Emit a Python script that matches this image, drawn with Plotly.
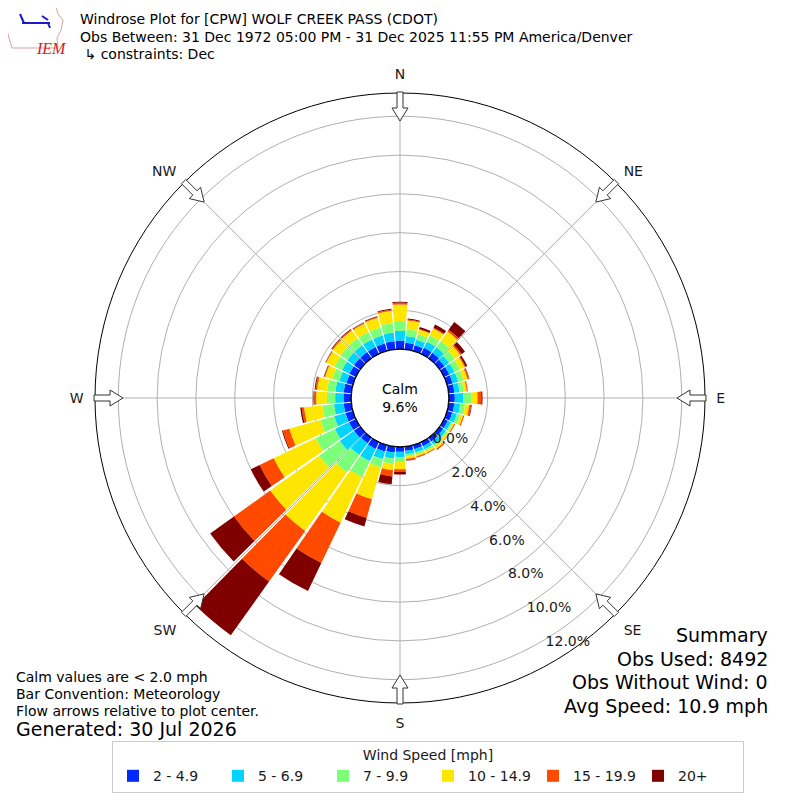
import math
import plotly.graph_objects as go

# wind directions (deg, bin centres) and speed bins
directions = list(range(0, 360, 10))
speed_bins = ["2 - 4.9", "5 - 6.9", "7 - 9.9", "10 - 14.9", "15 - 19.9", "20+"]
bin_colors = ["#0028ff", "#00d4ff", "#7cff79", "#ffe600", "#ff4a00", "#800000"]

# frequency (%) per direction for every speed bin
freq_2_5 = [.45, .35, .30, .35, .35, .30, .30, .30, .30, .31, .30, .28, .22, .22, .25, .24, .22, .22,
            .26, .30, .35, .40, .35, .40, .40, .40, .40, .40, .40, .35, .38, .40, .40, .40, .40, .42]
freq_5_7 = [.50, .35, .30, .35, .35, .30, .30, .30, .27, .43, .30, .25, .18, .18, .20, .18, .18, .18,
            .26, .33, .40, .70, .75, .90, .80, .60, .50, .43, .43, .38, .42, .43, .43, .43, .43, .45]
freq_7_10 = [.50, .35, .30, .35, .40, .35, .30, .28, .22, .43, .25, .18, .10, .10, .13, .10, .12, .12,
             .26, .28, .45, .90, 1.10, 1.30, 1.10, .75, .60, .43, .43, .38, .42, .43, .43, .43, .43, .48]
freq_10_15 = [.85, .45, .25, .40, .60, .35, .28, .22, .15, .31, .22, .15, .08, .10, .12, .10, .10, .12,
              .38, .32, 1.70, 2.60, 3.70, 3.10, 2.40, 1.65, .95, .55, .52, .38, .48, .48, .50, .48, .52, .65]
freq_15_20 = [.10, .05, .03, .05, .10, .08, .05, .08, .06, .20, .10, .06, .05, .03, .08, .05, .05, .08,
              .12, .32, 1.00, 2.30, 3.20, 2.30, .80, .35, .12, .10, .08, .04, .03, .06, .05, .04, .04, .06]
freq_20_up = [.05, .05, .10, .18, .50, .22, .10, .02, .00, .06, .03, .00, .00, .00, .00, .00, .01, .02,
              .15, .40, .45, 1.60, 3.40, 1.50, .50, .05, .08, .04, .05, .03, .02, .04, .04, .03, .04, .04]

radial_ticks = [0, 2, 4, 6, 8, 10, 12]
compass_angles = [0, 45, 90, 135, 180, 225, 270, 315]
compass_labels = ["N", "NE", "E", "SE", "S", "SW", "W", "NW"]

calm_pct = 9.6
summary = ["Summary", "Obs Used: 8492", "Obs Without Wind: 0", "Avg Speed: 10.9 mph"]

W = H = 800
OFF = 8  # page body margin
CX, CY, R_OUT = 400, 398, 305
RLABEL_ANGLE = -61


def px(x, y):
    # screen pixel -> paper coords
    return (x - OFF) / W, 1 - (y - OFF) / H


fig = go.Figure()
all_bins = [freq_2_5, freq_5_7, freq_7_10, freq_10_15, freq_15_20, freq_20_up]
for name, color, vals in zip(speed_bins, bin_colors, all_bins):
    fig.add_trace(go.Barpolar(r=vals, theta=directions, width=9.0, name=name,
                              marker=dict(color=color, line=dict(width=0))))

# black circle round the calm hole
fig.add_trace(go.Scatterpolar(r=[0] * 361, theta=list(range(361)), mode="lines",
                              line=dict(color="black", width=1.3), showlegend=False,
                              hoverinfo="skip"))

# hollow arrows on the outer ring
shapes = []
for a in compass_angles:
    t = math.radians(a)
    ox, oy = math.sin(t), -math.cos(t)
    qx, qy = math.cos(t), math.sin(t)
    pts = [(306, -3), (306, 3), (290, 3), (290, 8), (277, 0), (290, -8), (290, -3)]
    path = ""
    for i, (r, w) in enumerate(pts):
        x, y = px(CX + r * ox + w * qx, CY + r * oy + w * qy)
        path += ("M" if i == 0 else "L") + f"{x:.5f},{y:.5f} "
    shapes.append(dict(type="path", xref="paper", yref="paper", path=path + "Z",
                       fillcolor="white", line=dict(color="#333333", width=1)))

# rough IEM logo
logo = [(7, 7), (56, 7), (58, 14), (63, 20), (61, 30), (57, 38), (58, 48), (12, 48), (9, 38), (7, 30)]
path = ""
for i, (x, y) in enumerate(logo):
    xx, yy = px(x, y)
    path += ("M" if i == 0 else "L") + f"{xx:.5f},{yy:.5f} "
shapes.append(dict(type="path", xref="paper", yref="paper", path=path + "Z",
                   fillcolor="white", line=dict(color="#d9a0a0", width=1)))
for (x0, y0, x1, y1) in [(22, 23, 50, 23), (20, 14, 24, 23), (42, 16, 48, 20), (48, 23, 50, 28)]:
    a0, b0 = px(x0, y0)
    a1, b1 = px(x1, y1)
    shapes.append(dict(type="line", xref="paper", yref="paper", x0=a0, y0=b0, x1=a1, y1=b1,
                       line=dict(color="#1a1acc", width=2)))

ann = []


def text(x, y, s, size=14, anchor="left"):
    xx, yy = px(x, y)
    ann.append(dict(x=xx, y=yy, xref="paper", yref="paper", text=s, showarrow=False,
                    xanchor=anchor, yanchor="middle", font=dict(size=size, color="black")))


text(78, 19, "Windrose Plot for [CPW] WOLF CREEK PASS (CDOT)")
text(78, 37, "Obs Between: 31 Dec 1972 05:00 PM - 31 Dec 2025 11:55 PM America/Denver")
text(78, 54, " ↳ constraints: Dec")
text(400, 398, f"Calm<br>{calm_pct}%", anchor="center")
text(14, 677, "Calm values are < 2.0 mph")
text(14, 694, "Bar Convention: Meteorology")
text(14, 711, "Flow arrows relative to plot center.")
text(14, 729, "Generated: 30 Jul 2026", size=19)
for i, s in enumerate(summary):
    text(770, 635 + i * 23.5, s, size=19, anchor="right")
xx, yy = px(34, 38)
ann.append(dict(x=xx, y=yy, xref="paper", yref="paper", text="<i>IEM</i>", showarrow=False,
                font=dict(size=16, color="#cc2222", family="Liberation Serif")))

dom_x0, dom_y1 = px(CX - R_OUT, CY - R_OUT)
dom_x1, dom_y0 = px(CX + R_OUT, CY + R_OUT)
leg_x, leg_y = px(428, 741)

fig.update_layout(
    width=W, height=H,
    margin=dict(l=0, r=0, t=0, b=0),
    paper_bgcolor="white",
    font=dict(family="DejaVu Sans", size=14, color="#1a1a1a"),
    polar=dict(
        domain=dict(x=[dom_x0, dom_x1], y=[dom_y0, dom_y1]),
        hole=0.16,
        bgcolor="white",
        barmode="stack",
        angularaxis=dict(rotation=90, direction="clockwise", tickmode="array",
                         tickvals=compass_angles, ticktext=compass_labels,
                         showgrid=True, gridcolor="#b0b0b0", gridwidth=1,
                         showline=True, linecolor="black", linewidth=1,
                         ticks="outside", ticklen=8, tickcolor="rgba(0,0,0,0)",
                         tickfont=dict(size=14)),
        radialaxis=dict(range=[0, 13.2], tickmode="array", tickvals=radial_ticks,
                        ticktext=[f"{v:.1f}%" for v in radial_ticks],
                        angle=RLABEL_ANGLE, side="counterclockwise", tickangle=RLABEL_ANGLE,
                        showline=False, showgrid=True, gridcolor="#b0b0b0",
                        ticks="", tickfont=dict(size=14)),
    ),
    legend=dict(orientation="h", x=leg_x, xanchor="center", y=leg_y, yanchor="top",
                bordercolor="#cccccc", borderwidth=1, bgcolor="white",
                font=dict(size=14), entrywidth=60, entrywidthmode="pixels",
                title=dict(text="Wind Speed [mph]", side="top center", font=dict(size=14))),
    shapes=shapes,
    annotations=ann,
)

fig.write_html("out.html")
